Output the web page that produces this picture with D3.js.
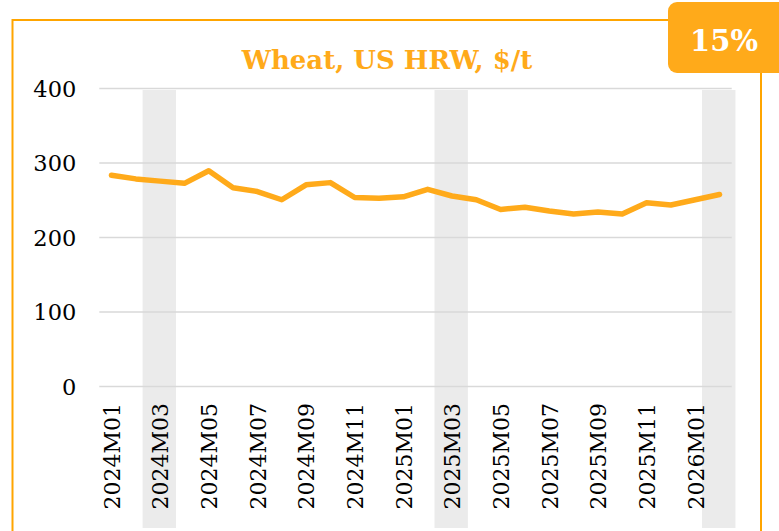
<!DOCTYPE html>
<html>
<head>
<meta charset="utf-8">
<script src="https://cdn.jsdelivr.net/npm/d3@7"></script>
<style>
  html, body { margin: 0; padding: 0; background: #fff; }
  svg { display: block; }
</style>
</head>
<body>
<svg id="chart" width="779" height="531"></svg>
<script>
const categories = ["2024M01","2024M02","2024M03","2024M04","2024M05","2024M06","2024M07","2024M08","2024M09","2024M10","2024M11","2024M12",
  "2025M01","2025M02","2025M03","2025M04","2025M05","2025M06","2025M07","2025M08","2025M09","2025M10","2025M11","2025M12",
  "2026M01","2026M02"];
const values = [283, 278, 275, 272, 289, 266, 261, 250, 270, 273, 253, 252, 254, 264, 255, 250, 237, 240, 235, 231, 233.5, 231, 246, 243, 250, 257];
const yTicks = [0, 100, 200, 300, 400];
const xLabels = categories.filter((d, i) => i % 2 === 0);
const highlight = ["2024M03", "2025M03", "2026M02"];
const title = "Wheat, US HRW, $/t";
const badgeText = "15%";

const orange = "#FFAA1A";
const svg = d3.select("#chart");

const x = d3.scaleBand().domain(categories).range([99.3, 731.7]);
const y = d3.scaleLinear().domain([0, 400]).range([386, 88]);
const cx = d => x(d) + x.bandwidth() / 2;

// highlight bands
svg.append("g").selectAll("rect").data(highlight).join("rect")
  .attr("x", d => cx(d) - 17.5)
  .attr("width", 33.4)
  .attr("y", 90)
  .attr("height", 438)
  .attr("fill", "#ebebeb");

// y axis with gridlines
const yAxis = svg.append("g")
  .attr("transform", "translate(99.3,0)")
  .call(d3.axisLeft(y).tickValues(yTicks).tickSize(-632.4).tickPadding(23));
yAxis.select(".domain").remove();
yAxis.selectAll(".tick line").attr("stroke", "#d9d9d9").attr("stroke-width", 1.5);
yAxis.selectAll(".tick text")
  .attr("font-family", "DejaVu Serif")
  .attr("font-size", 22.5)
  .attr("fill", "#000")
  .attr("dy", "0.36em");

// x axis labels
const xAxis = svg.append("g")
  .attr("transform", "translate(0,386)")
  .call(d3.axisBottom(x).tickValues(xLabels).tickSize(0));
xAxis.select(".domain").remove();
xAxis.selectAll(".tick text")
  .attr("font-family", "DejaVu Serif")
  .attr("font-size", 22)
  .attr("fill", "#000")
  .attr("transform", "rotate(-90)")
  .attr("text-anchor", "end")
  .attr("x", -17)
  .attr("y", 0)
  .attr("dy", "0.38em");

// line
svg.append("path")
  .datum(values)
  .attr("fill", "none")
  .attr("stroke", orange)
  .attr("stroke-width", 5.5)
  .attr("stroke-linejoin", "round")
  .attr("stroke-linecap", "round")
  .attr("d", d3.line().x((d, i) => cx(categories[i])).y(d => y(d)));

// frame
svg.append("path")
  .attr("d", "M12.5,531 L12.5,20 L668,20")
  .attr("fill", "none").attr("stroke", "#FFA500").attr("stroke-width", 2);
svg.append("path")
  .attr("d", "M761,73 L761,531")
  .attr("fill", "none").attr("stroke", "#FFA500").attr("stroke-width", 2);

// badge
svg.append("rect")
  .attr("x", 668).attr("y", 2).attr("width", 120).attr("height", 71)
  .attr("rx", 9).attr("fill", orange);
svg.append("text")
  .attr("x", 724).attr("y", 51)
  .attr("text-anchor", "middle")
  .attr("font-family", "DejaVu Serif")
  .attr("font-weight", "bold")
  .attr("font-size", 29)
  .attr("fill", "#fff")
  .text(badgeText);

// title
svg.append("text")
  .attr("x", 387).attr("y", 69)
  .attr("text-anchor", "middle")
  .attr("font-family", "DejaVu Serif")
  .attr("font-weight", "bold")
  .attr("font-size", 26)
  .attr("fill", orange)
  .text(title);
</script>
</body>
</html>
